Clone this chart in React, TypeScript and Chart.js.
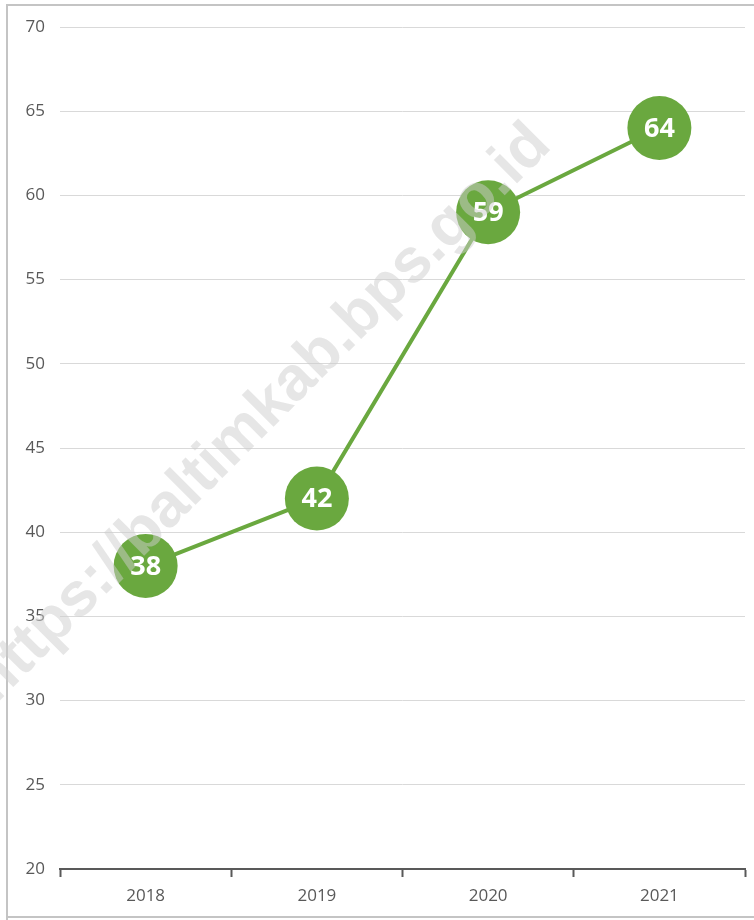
import React, { useEffect, useRef } from "react";
import { Chart, registerables } from "chart.js";

Chart.register(...registerables);

const categories = ["2018", "2019", "2020", "2021"];
const values = [38, 42, 59, 64];
const yMin = 20;
const yMax = 70;
const yStep = 5;
const watermark = "https://baltimkab.bps.go.id";

const GREEN = "#6aa83f";
const TEXT = "#595959";

export default function App() {
  const ref = useRef<HTMLCanvasElement | null>(null);

  useEffect(() => {
    document.body.style.margin = "0";
    const canvas = ref.current;
    if (!canvas) return;

    const framePlugin = {
      id: "frame",
      beforeDraw(chart: any) {
        const ctx = chart.ctx;
        ctx.save();
        ctx.fillStyle = "#ffffff";
        ctx.fillRect(0, 0, chart.width, chart.height);
        ctx.strokeStyle = "#c4c4c4";
        ctx.lineWidth = 2;
        ctx.beginPath();
        ctx.moveTo(7, 920);
        ctx.lineTo(7, 5);
        ctx.lineTo(754, 5);
        ctx.moveTo(7, 917);
        ctx.lineTo(754, 917);
        ctx.stroke();
        ctx.restore();
      },
    };

    const labelPlugin = {
      id: "pointLabels",
      afterDatasetsDraw(chart: any) {
        const ctx = chart.ctx;
        const meta = chart.getDatasetMeta(0);
        ctx.save();
        ctx.fillStyle = "#ffffff";
        ctx.font = "bold 27px 'Open Sans', sans-serif";
        ctx.textAlign = "center";
        ctx.textBaseline = "middle";
        meta.data.forEach((pt: any, i: number) => {
          ctx.fillText(String(values[i]), pt.x, pt.y + 1);
        });
        ctx.restore();
      },
    };

    const watermarkPlugin = {
      id: "watermark",
      afterDraw(chart: any) {
        const ctx = chart.ctx;
        ctx.save();
        ctx.translate(262, 414);
        ctx.rotate(-Math.PI / 4);
        ctx.font = "bold 62px 'Liberation Sans', Arial, sans-serif";
        ctx.textAlign = "center";
        ctx.textBaseline = "middle";
        ctx.fillStyle = "rgba(205,205,205,0.5)";
        ctx.fillText(watermark, 0, 0);
        ctx.restore();
      },
    };

    const chart = new Chart(canvas, {
      type: "line",
      data: {
        labels: categories,
        datasets: [
          {
            data: values,
            borderColor: GREEN,
            backgroundColor: GREEN,
            borderWidth: 4,
            pointRadius: 32,
            pointHoverRadius: 32,
            pointBackgroundColor: GREEN,
            pointBorderColor: GREEN,
            pointBorderWidth: 0,
            tension: 0,
            clip: false,
          },
        ],
      },
      options: {
        animation: false,
        responsive: false,
        maintainAspectRatio: false,
        layout: { autoPadding: false, padding: { left: 0, right: 9, top: 27, bottom: 0 } },
        plugins: {
          legend: { display: false },
          tooltip: { enabled: false },
        },
        scales: {
          x: {
            offset: true,
            grid: {
              offset: true,
              drawOnChartArea: false,
              drawTicks: true,
              tickLength: 8,
              tickWidth: 2,
              tickColor: TEXT,
            },
            border: { display: true, color: TEXT, width: 2 },
            ticks: {
              color: TEXT,
              padding: 9,
              font: { family: "'Open Sans', sans-serif", size: 17 },
            },
            afterFit(scale: any) {
              scale.height = 51;
              scale.paddingLeft = 0;
              scale.paddingRight = 0;
              scale.paddingTop = 0;
              scale.paddingBottom = 0;
            },
          },
          y: {
            min: yMin,
            max: yMax,
            ticks: {
              stepSize: yStep,
              color: TEXT,
              padding: 15,
              font: { family: "'Open Sans', sans-serif", size: 17 },
            },
            grid: { color: "#d9d9d9", lineWidth: 1, drawTicks: false },
            border: { display: false },
            afterFit(scale: any) {
              scale.width = 60;
              scale.paddingLeft = 0;
              scale.paddingRight = 0;
              scale.paddingTop = 0;
              scale.paddingBottom = 0;
            },
          },
        },
      },
      plugins: [framePlugin, labelPlugin, watermarkPlugin],
    });

    return () => chart.destroy();
  }, []);

  return (
    <div style={{ width: 754, height: 920 }}>
      <canvas ref={ref} width={754} height={920} style={{ display: "block" }} />
    </div>
  );
}
